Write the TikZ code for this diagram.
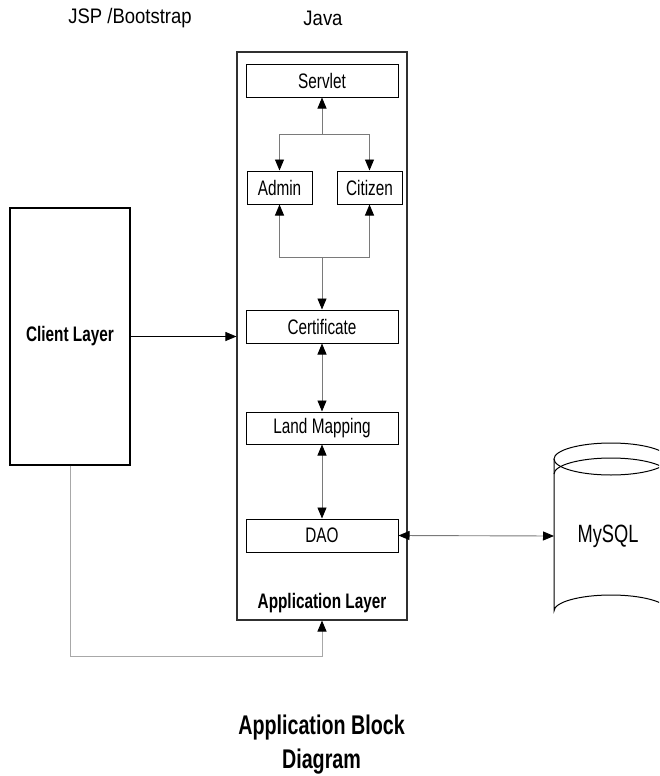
\documentclass[tikz,border=0pt]{standalone}
\usepackage{fontspec}
\setmainfont{Liberation Sans}[FakeStretch=0.73]
\newfontfamily\hdrfont{Liberation Sans}[FakeStretch=0.88]
\usetikzlibrary{arrows.meta}
\definecolor{linkgray}{HTML}{7A7A7A}
\definecolor{routegray}{HTML}{A8A8A8}
\definecolor{framegray}{HTML}{303030}
\begin{document}
\begin{tikzpicture}[x=1pt,y=-1pt,
  tip/.tip={Triangle[length=11pt,width=9pt,color=black]},
  block/.style={draw=black,line width=1pt,fill=white,inner sep=0pt,
    font=\fontsize{21}{21}\selectfont},
  layer/.style={draw=framegray,line width=1.1pt,inner sep=0pt},
  link/.style={draw=linkgray,line width=0.9pt},
  hdr/.style={font=\hdrfont\fontsize{21}{21}\selectfont,inner sep=0pt},
  bold/.style={font=\fontsize{21}{21}\selectfont\bfseries,inner sep=0pt}]
\useasboundingbox (0,0) rectangle (659,776);

% column headings
\node[hdr] (hjsp) at (130,18) {JSP /Bootstrap};
\node[hdr] (hjava) at (323,18) {Java};

% application layer container and its components
\node[layer,minimum width=170pt,minimum height=568pt] (app) at (322,336) {};
\node[bold] (applbl) at (322,603) {Application Layer};
\node[block,minimum width=152pt,minimum height=32pt] (servlet) at (322,81) {Servlet};
\node[block,minimum width=65pt,minimum height=33pt] (admin) at (279.5,187.5) {Admin};
\node[block,minimum width=65pt,minimum height=33pt] (citizen) at (369.5,187.5) {Citizen};
\node[block,minimum width=152pt,minimum height=33pt] (cert) at (322,326.5) {Certificate};
\node[block,minimum width=152pt,minimum height=32pt] (land) at (322,428) {Land Mapping};
\node[block,minimum width=152pt,minimum height=33pt] (dao) at (322,535.5) {DAO};

% client layer
\node[layer,draw=black,minimum width=120pt,minimum height=257pt,
  font=\fontsize{21}{21}\selectfont\bfseries] (client) at (70,336.5) {Client Layer};

% database cylinder (runs past the right edge)
\begin{scope}
  \clip (540,430) rectangle (659,640);
  \draw[black,line width=1pt,fill=white]
    (554,459) -- (554,611) arc[start angle=180,end angle=360,x radius=57,y radius=16]
    -- (668,459);
  \draw[black,line width=1pt] (611,459) ellipse[x radius=57,y radius=16];
  \draw[black,line width=1pt] (554,474) arc[start angle=180,end angle=360,x radius=57,y radius=16];
\end{scope}
\node[font=\fontsize{25}{25}\selectfont,inner sep=0pt] (db) at (608,536) {MySQL};
\coordinate (dbw) at (554,536);

% junctions between servlet, roles and certificate
\coordinate (jtop) at (322,134);
\coordinate (jbot) at (322,257);

\draw[link,-tip] (jtop) -- (servlet.south);
\draw[link,-tip] (jtop) -| (admin.north);
\draw[link,-tip] (jtop) -| (citizen.north);
\draw[link,-tip] (jbot) -| (admin.south);
\draw[link,-tip] (jbot) -| (citizen.south);
\draw[link,-tip] (jbot) -- (cert.north);
\draw[link,tip-tip] (cert.south) -- (land.north);
\draw[link,tip-tip] (land.south) -- (dao.north);
\draw[link,tip-tip] (dao.east) -- (dbw);

% client to application
\draw[draw=black,line width=0.9pt,-tip] (client.east) -- (client.east -| app.west);
\coordinate (route) at (70,656);
\draw[draw=routegray,line width=1pt,-tip] (client.south) -- (route) -| (app.south);

% title
\node[font=\fontsize{27}{34}\selectfont\bfseries,align=center,inner sep=0pt]
  (title) at (321.5,745) {Application Block\\Diagram};
\end{tikzpicture}
\end{document}
